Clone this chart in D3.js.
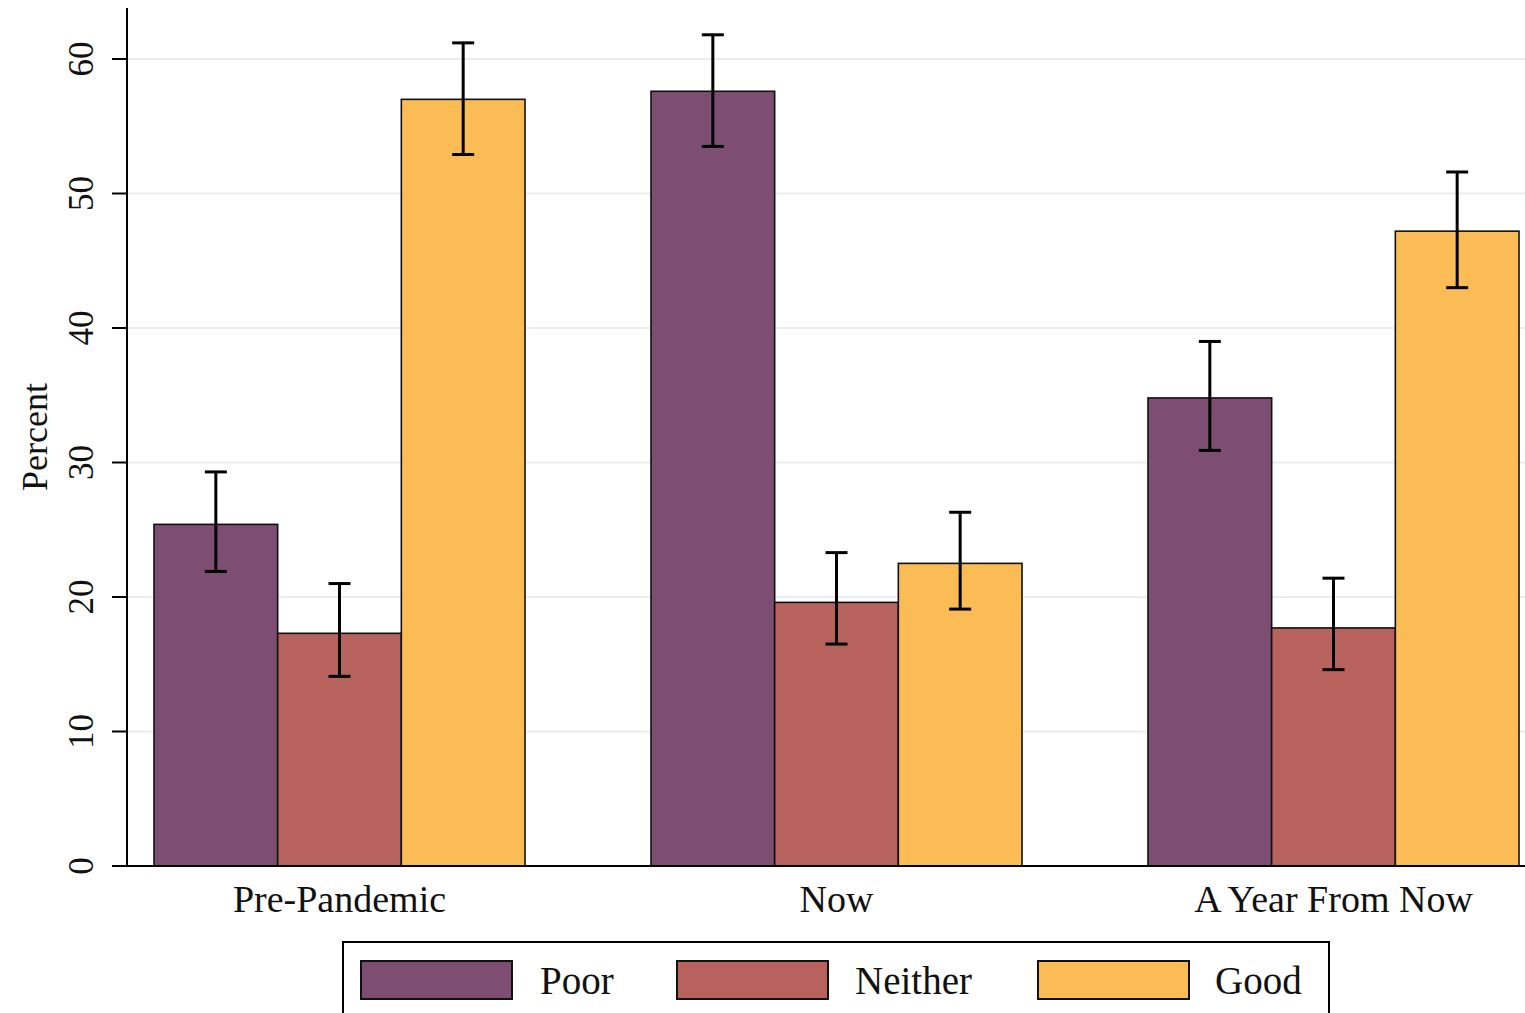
<!DOCTYPE html>
<html><head><meta charset="utf-8">
<script src="https://cdn.jsdelivr.net/npm/d3@7"></script>
<style>body{margin:0;background:#fff}svg{display:block}</style>
</head><body>
<svg id="c" width="1525" height="1013"></svg>
<script>
const categories = ["Pre-Pandemic", "Now", "A Year From Now"];
const series = ["Poor", "Neither", "Good"];
const poorValues = [25.4, 57.6, 34.8];
const neitherValues = [17.3, 19.6, 17.7];
const goodValues = [57.0, 22.5, 47.2];
const poorLow = [21.9, 53.5, 30.9];
const poorHigh = [29.3, 61.8, 39.0];
const neitherLow = [14.1, 16.5, 14.6];
const neitherHigh = [21.0, 23.3, 21.4];
const goodLow = [52.9, 19.1, 43.0];
const goodHigh = [61.2, 26.3, 51.6];
const yTicks = [0, 10, 20, 30, 40, 50, 60];
const colors = ["#7d4e72", "#b8625d", "#fbbc55"];

const vals = [poorValues, neitherValues, goodValues];
const lows = [poorLow, neitherLow, goodLow];
const highs = [poorHigh, neitherHigh, goodHigh];

const font = "'Liberation Serif','DejaVu Serif',serif";
const svg = d3.select("#c");
const y = d3.scaleLinear().domain([0, 60]).range([866, 59]);
const x0 = d3.scaleBand().domain(categories).range([154, 1519]).paddingInner(0.2535).paddingOuter(0);
const x1 = d3.scaleBand().domain(series).range([0, x0.bandwidth()]);

// gridlines
svg.append("g").selectAll("line").data(yTicks.filter(d => d > 0)).join("line")
  .attr("x1", 128).attr("x2", 1525).attr("y1", d => y(d)).attr("y2", d => y(d))
  .attr("stroke", "#eaedf0").attr("stroke-width", 2);

// bars
const data = [];
categories.forEach((c, i) => series.forEach((s, j) => data.push({c, s, j, v: vals[j][i], lo: lows[j][i], hi: highs[j][i]})));
svg.append("g").selectAll("rect").data(data).join("rect")
  .attr("x", d => x0(d.c) + x1(d.s)).attr("width", x1.bandwidth())
  .attr("y", d => y(d.v)).attr("height", d => y(0) - y(d.v))
  .attr("fill", d => colors[d.j]).attr("stroke", "#111").attr("stroke-width", 1.6);

// error bars
const eb = svg.append("g").attr("stroke", "#000").attr("stroke-width", 3);
data.forEach(d => {
  const cx = x0(d.c) + x1(d.s) + x1.bandwidth() / 2;
  eb.append("line").attr("x1", cx).attr("x2", cx).attr("y1", y(d.hi)).attr("y2", y(d.lo));
  eb.append("line").attr("x1", cx - 11).attr("x2", cx + 11).attr("y1", y(d.hi)).attr("y2", y(d.hi));
  eb.append("line").attr("x1", cx - 11).attr("x2", cx + 11).attr("y1", y(d.lo)).attr("y2", y(d.lo));
});

// y axis
const ya = svg.append("g").attr("transform", "translate(127,0)")
  .call(d3.axisLeft(y).tickValues(yTicks).tickSize(15).tickPadding(30).tickFormat(d3.format("d")));
ya.select(".domain").remove();
ya.append("line").attr("x1", 0).attr("x2", 0).attr("y1", 8).attr("y2", 866).attr("stroke", "#000").attr("stroke-width", 2);
ya.selectAll(".tick line").attr("stroke", "#000").attr("stroke-width", 2);
ya.selectAll(".tick text").attr("font-family", font).attr("font-size", 35).attr("fill", "#111")
  .attr("transform", function(d){ return `rotate(-90, -45, ${y(d)})`; })
  .attr("x", -45).attr("y", d => y(d)).attr("text-anchor", "middle")
  .each(function(){ d3.select(this.parentNode).attr("transform", null); });
ya.selectAll(".tick line").attr("y1", d => y(d)).attr("y2", d => y(d));
ya.selectAll(".tick text").attr("dy", "0.32em");

// x axis baseline
svg.append("line").attr("x1", 112).attr("x2", 1525).attr("y1", 866).attr("y2", 866).attr("stroke", "#000").attr("stroke-width", 2);
svg.append("g").selectAll("text").data(categories).join("text")
  .attr("x", d => x0(d) + x0.bandwidth() / 2).attr("y", 912)
  .attr("text-anchor", "middle").attr("font-family", font).attr("font-size", 38).attr("fill", "#111").text(d => d);

// y title
svg.append("text").attr("transform", "translate(47,437) rotate(-90)").attr("text-anchor", "middle")
  .attr("font-family", font).attr("font-size", 36).attr("fill", "#111").text("Percent");

// legend
const lg = svg.append("g");
lg.append("rect").attr("x", 343).attr("y", 942).attr("width", 986).attr("height", 90)
  .attr("fill", "#fff").attr("stroke", "#000").attr("stroke-width", 2);
const swX = [361, 677, 1038];
const txX = [540, 855, 1215];
series.forEach((s, j) => {
  lg.append("rect").attr("x", swX[j]).attr("y", 961).attr("width", 151).attr("height", 38)
    .attr("fill", colors[j]).attr("stroke", "#111").attr("stroke-width", 2);
  lg.append("text").attr("x", txX[j]).attr("y", 994).attr("font-family", font).attr("font-size", 39)
    .attr("fill", "#111").text(s);
});
</script>
</body></html>
